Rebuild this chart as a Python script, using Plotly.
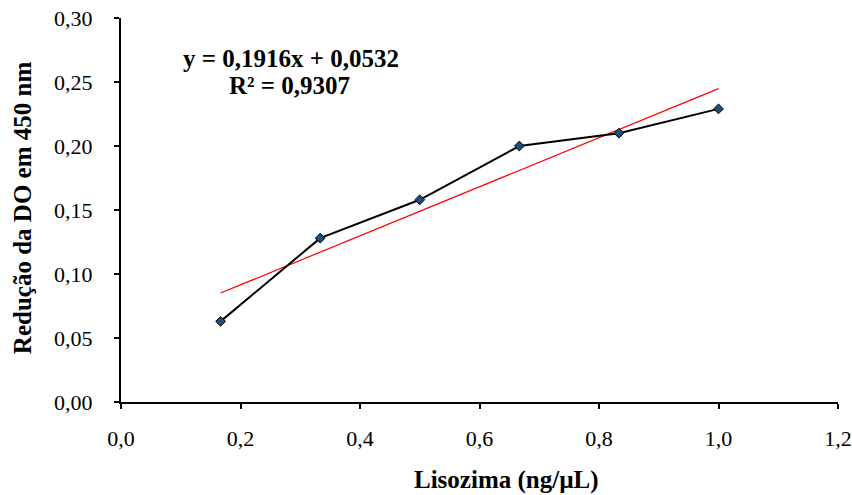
import plotly.graph_objects as go

x_vals = [1/6, 2/6, 3/6, 4/6, 5/6, 1.0]
y_vals = [0.063, 0.128, 0.158, 0.200, 0.210, 0.229]
slope = 0.1916
intercept = 0.0532
eq_text = "y = 0,1916x + 0,0532"
r2_text = "R² = 0,9307"
x_ticks = [0, 0.2, 0.4, 0.6, 0.8, 1.0, 1.2]
x_tick_text = ["0,0", "0,2", "0,4", "0,6", "0,8", "1,0", "1,2"]
y_ticks = [0, 0.05, 0.10, 0.15, 0.20, 0.25, 0.30]
y_tick_text = ["0,00", "0,05", "0,10", "0,15", "0,20", "0,25", "0,30"]
x_title = "Lisozima (ng/µL)"
y_title = "Redução da DO em 450 nm"

trend_x = [x_vals[0], x_vals[-1]]
trend_y = [slope * v + intercept for v in trend_x]

font = "Liberation Serif, Times New Roman, serif"

fig = go.Figure()
fig.add_trace(go.Scatter(x=trend_x, y=trend_y, mode="lines",
                         line=dict(color="#ff0000", width=1.2), showlegend=False))
fig.add_trace(go.Scatter(x=x_vals, y=y_vals, mode="lines+markers",
                         line=dict(color="black", width=2),
                         marker=dict(symbol="diamond", size=7.5, color="#1f4e79",
                                     line=dict(color="black", width=1)),
                         showlegend=False))

ann = dict(showarrow=False, xref="paper", yref="paper", xanchor="center", yanchor="middle")
fig.add_annotation(x=0.2371, y=0.8958, text="<b>" + eq_text + "</b>",
                   font=dict(family=font, size=25, color="black"), **ann)
fig.add_annotation(x=0.2350, y=0.8255, text="<b>" + r2_text + "</b>",
                   font=dict(family=font, size=25, color="black"), **ann)
fig.add_annotation(x=0.537, y=-0.203, text="<b>" + x_title + "</b>",
                   font=dict(family=font, size=25, color="black"), **ann)
fig.add_annotation(x=-0.138, y=0.505, text="<b>" + y_title + "</b>", textangle=-90,
                   font=dict(family=font, size=25, color="black"), **ann)

fig.update_layout(
    width=852, height=495,
    margin=dict(l=121, r=14, t=18, b=93, autoexpand=False),
    plot_bgcolor="white", paper_bgcolor="white",
    font=dict(family=font, size=22, color="black"),
    xaxis=dict(range=[0, 1.2], tickvals=x_ticks, ticktext=x_tick_text,
               showgrid=False, zeroline=False, showline=True, linecolor="black",
               linewidth=2, ticks="outside", ticklen=5, tickwidth=2, tickcolor="black",
               automargin=False, ticklabelstandoff=11, ticklabeloverflow="allow"),
    yaxis=dict(range=[0, 0.30], tickvals=y_ticks, ticktext=y_tick_text,
               showgrid=False, zeroline=False, showline=True, linecolor="black",
               linewidth=2, ticks="outside", ticklen=5, tickwidth=2, tickcolor="black",
               automargin=False, ticklabelstandoff=17, ticklabeloverflow="allow"),
)

fig.write_html("out.html")
